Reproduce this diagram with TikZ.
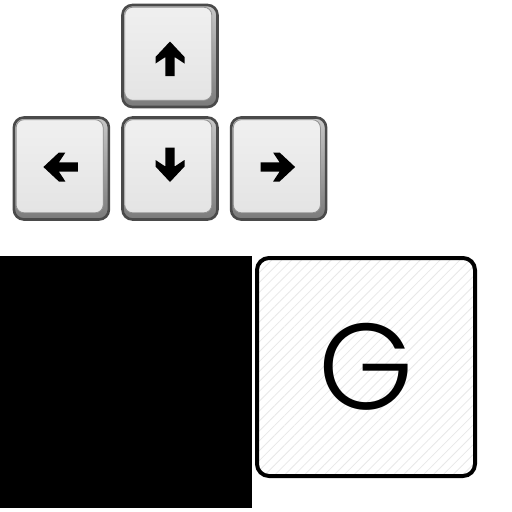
\documentclass[tikz,border=0pt]{standalone}
\usepackage{fontspec}
\setmainfont{Poppins}[UprightFont={* Light}]
\usepackage{tikz}
\usetikzlibrary{patterns.meta,positioning}
\definecolor{keyrim}{HTML}{4A4A4A}
\definecolor{keyface}{HTML}{E4E4E4}
\definecolor{faceline}{HTML}{909090}
\definecolor{hatch}{HTML}{E8E8E8}
\tikzset{
  keycap/.style={
    draw=keyrim, line width=2.6, rounded corners=10,
    minimum width=95, minimum height=102, inner sep=0,
    top color=black!22, bottom color=black!52,
   }}
\tikzset{
  keytop/.style={
    draw=faceline, line width=0.8, rounded corners=8,
    top color=white!94!black, bottom color=keyface,
   }}
\tikzset{
  letterkey/.style={
    draw=black, line width=4, rounded corners=12,
    minimum width=218, minimum height=218, inner sep=0,
    preaction={fill=white},
    pattern={Lines[angle=45,distance=7pt,line width=0.8pt]}, pattern color=hatch,
   }}
\tikzset{
  keyarrow/.pic={
    \fill (0,-17.5) -- (14.5,-2) -- (14.5,4.5) -- (4.6,-2) -- (4.6,17) -- (-4.6,17) -- (-4.6,-2) -- (-14.5,4.5) -- (-14.5,-2) -- cycle;
   }}

\begin{document}
\begin{tikzpicture}[x=1pt,y=-1pt]
    \useasboundingbox (0,0) rectangle (512,512);
%    arrow keys
    \begin{scope}
    \node[keycap](upkey) at (170,56) {};
    \node[keycap](downkey) at (170,168.5) {};
    \node[keycap,left=11pt of downkey](leftkey) {};
    \node[keycap,right=11pt of downkey](rightkey) {};
    \foreach \k/\a/\dx/\dy in {upkey/0/0/3, downkey/180/0/-4, leftkey/90/-0.5/-1.5, rightkey/-90/-1/-1.5}{
        \draw[keytop] ([shift={(3.5,3.5)}]\k.north west) rectangle ([shift={(-7,-8)}]\k.south east);
        \pic[rotate=\a] at ([shift={(\dx,\dy)}]\k.center) {keyarrow};
    }
    \end{scope}
%    black square and letter key
    \fill[black] (0,256) rectangle (252,508);
    \node[letterkey](gkey) at (366,367) {};
    \node[inner sep=0,font=\fontsize{122}{122}\selectfont] at (gkey.center) {G};
\end{tikzpicture}
\end{document}
